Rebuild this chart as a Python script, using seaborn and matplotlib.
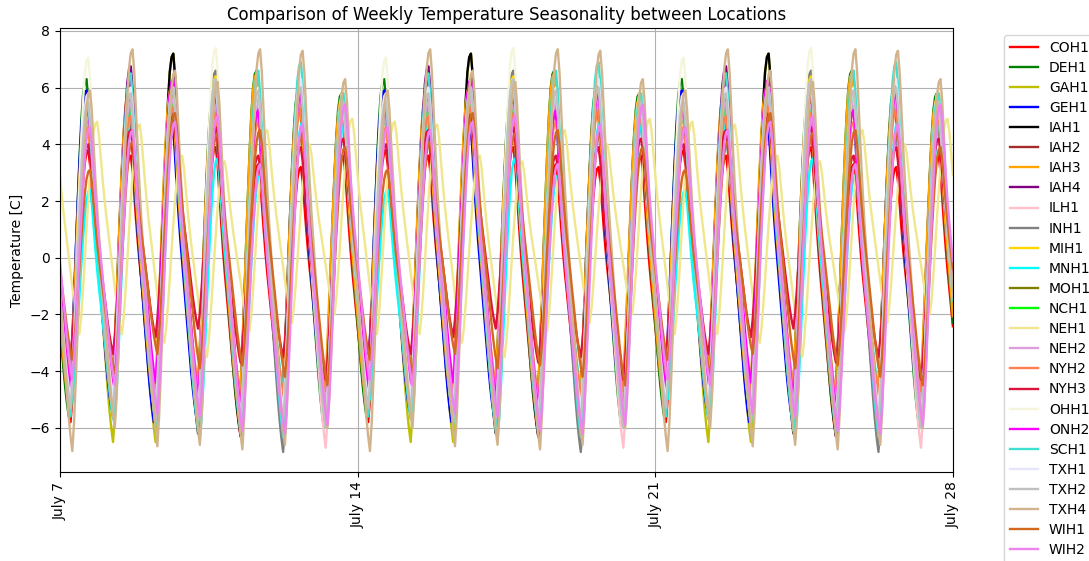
import numpy as np
import pandas as pd
import matplotlib
matplotlib.use("Agg")
import matplotlib.pyplot as plt
import matplotlib.dates as mdates
import seaborn as sns

locations = ["COH1", "DEH1", "GAH1", "GEH1", "IAH1", "IAH2", "IAH3", "IAH4", "ILH1", "INH1",
             "MIH1", "MNH1", "MOH1", "NCH1", "NEH1", "NEH2", "NYH2", "NYH3", "OHH1", "ONH2",
             "SCH1", "TXH1", "TXH2", "TXH4", "WIH1", "WIH2"]
colors = ["red", "green", "y", "blue", "black", "brown", "orange", "purple", "pink", "gray",
          "gold", "cyan", "olive", "lime", "khaki", "plum", "coral", "crimson", "beige", "magenta",
          "turquoise", "lavender", "silver", "tan", "chocolate", "violet"]

# daily peak (afternoon) values for the 7 days of the week, per location
peaks = {
    "COH1": [3.8, 3.6, 4.4, 3.9, 3.3, 3.2, 3.6],
    "DEH1": [6.3, 5.6, 5.8, 5.9, 6.6, 6.0, 5.8],
    "GAH1": [5.7, 6.2, 7.2, 6.5, 6.1, 6.2, 5.9],
    "GEH1": [5.9, 5.8, 5.3, 5.6, 5.9, 5.7, 5.5],
    "IAH1": [5.8, 6.4, 7.2, 6.0, 5.8, 6.1, 5.7],
    "IAH2": [5.0, 5.4, 5.6, 5.3, 5.2, 5.5, 5.0],
    "IAH3": [5.4, 5.9, 6.0, 5.7, 6.5, 5.8, 5.6],
    "IAH4": [5.6, 6.75, 6.3, 5.9, 5.8, 6.0, 5.6],
    "ILH1": [5.2, 5.4, 5.8, 6.1, 5.5, 5.9, 5.6],
    "INH1": [5.6, 5.9, 6.2, 6.6, 5.7, 5.8, 5.7],
    "MIH1": [5.5, 5.8, 6.0, 6.4, 5.7, 5.9, 5.6],
    "MNH1": [2.4, 5.2, 5.0, 3.5, 2.9, 4.8, 4.9],
    "MOH1": [5.3, 5.6, 5.9, 5.5, 5.6, 5.7, 5.4],
    "NCH1": [5.0, 5.4, 5.5, 5.2, 5.6, 5.8, 5.2],
    "NEH1": [4.8, 4.7, 3.6, 3.4, 4.5, 4.0, 4.9],
    "NEH2": [5.0, 5.5, 5.6, 5.4, 5.5, 5.6, 5.3],
    "NYH2": [4.6, 5.0, 5.3, 5.1, 4.8, 5.2, 4.9],
    "NYH3": [4.0, 4.5, 5.0, 4.6, 3.6, 3.9, 4.2],
    "OHH1": [7.06, 6.0, 6.1, 7.4, 6.0, 6.3, 5.9],
    "ONH2": [5.2, 6.3, 6.3, 5.8, 5.2, 5.8, 5.5],
    "SCH1": [5.4, 6.5, 6.0, 6.2, 6.6, 6.9, 5.8],
    "TXH1": [5.8, 6.0, 6.0, 6.1, 5.8, 6.3, 5.3],
    "TXH2": [5.5, 5.8, 6.0, 6.3, 5.9, 6.0, 5.5],
    "TXH4": [5.9, 7.35, 6.6, 6.2, 7.35, 7.3, 6.3],
    "WIH1": [3.1, 4.1, 5.1, 4.4, 4.5, 4.4, 3.9],
    "WIH2": [4.6, 4.5, 4.8, 5.0, 3.3, 4.7, 5.4],
}
# daily trough (early morning) values for the 7 days of the week, per location
troughs = {
    "COH1": [-5.8, -4.9, -5.2, -4.8, -6.3, -5.6, -5.2],
    "DEH1": [-5.6, -5.2, -5.6, -5.4, -5.8, -5.7, -6.0],
    "GAH1": [-5.3, -6.5, -6.5, -5.8, -5.9, -5.6, -5.8],
    "GEH1": [-5.0, -5.3, -5.8, -5.6, -5.5, -5.4, -5.6],
    "IAH1": [-5.4, -5.6, -5.7, -6.2, -6.3, -5.8, -5.5],
    "IAH2": [-4.8, -4.5, -4.8, -5.0, -5.2, -5.0, -4.9],
    "IAH3": [-5.2, -5.0, -5.3, -5.2, -5.5, -5.4, -5.1],
    "IAH4": [-5.0, -5.4, -5.6, -5.6, -5.7, -5.6, -5.4],
    "ILH1": [-5.3, -5.5, -5.6, -5.9, -6.0, -6.0, -6.7],
    "INH1": [-5.2, -5.6, -5.7, -5.5, -6.0, -6.85, -5.8],
    "MIH1": [-5.5, -5.3, -5.8, -5.7, -5.5, -5.6, -5.4],
    "MNH1": [-5.0, -5.6, -5.5, -6.4, -5.6, -5.0, -5.3],
    "MOH1": [-5.0, -5.2, -5.4, -4.7, -5.3, -5.4, -5.2],
    "NCH1": [-4.9, -5.1, -5.2, -5.3, -5.0, -5.5, -5.5],
    "NEH1": [-2.7, -2.7, -3.0, -3.5, -2.6, -2.3, -2.0],
    "NEH2": [-4.6, -4.8, -5.0, -5.1, -5.2, -5.3, -5.0],
    "NYH2": [-4.2, -4.6, -4.8, -4.5, -4.9, -4.8, -4.7],
    "NYH3": [-3.4, -3.4, -2.8, -2.5, -3.7, -3.5, -4.3],
    "OHH1": [-5.3, -5.0, -5.4, -5.4, -5.9, -5.5, -6.0],
    "ONH2": [-4.6, -4.5, -4.4, -4.9, -5.3, -6.0, -5.6],
    "SCH1": [-5.6, -5.7, -5.9, -6.1, -6.2, -6.3, -6.0],
    "TXH1": [-5.0, -4.9, -5.3, -5.4, -5.6, -5.4, -5.7],
    "TXH2": [-5.3, -5.4, -5.8, -5.7, -5.9, -5.8, -6.0],
    "TXH4": [-6.82, -6.0, -6.65, -6.6, -6.76, -6.6, -6.0],
    "WIH1": [-3.6, -4.1, -3.4, -3.9, -3.8, -4.2, -4.5],
    "WIH2": [-4.3, -4.5, -5.5, -5.6, -6.1, -6.2, -5.9],
}
# phase lag in hours per location (most follow the common cycle)
lag_hours = {"NEH1": 5, "TXH4": 1, "DEH1": -1, "GEH1": -1, "IAH3": -1,
             "MNH1": 1, "WIH1": 1, "WIH2": 1}

# normalized hourly shape of the daily cycle (0 = trough, 1 = peak)
hour_profile = [0.36, 0.29, 0.22, 0.15, 0.09, 0.04, 0.00, 0.08, 0.20, 0.34, 0.49, 0.63,
                0.76, 0.87, 0.95, 0.99, 1.00, 0.94, 0.84, 0.74, 0.65, 0.57, 0.50, 0.43]

times = pd.date_range("2023-07-07 00:00", "2023-07-28 00:00", freq="h")

rows = []
for loc in locations:
    P, T = peaks[loc], troughs[loc]
    lag = lag_hours.get(loc, 0)
    for i, ts in enumerate(times):
        t = i - lag
        d, h = divmod(t, 24)
        w = d % 7
        if 6 <= h <= 16:
            lo, hi = T[w], P[w]
        elif h > 16:
            lo, hi = T[(w + 1) % 7], P[w]
        else:
            lo, hi = T[w], P[(w - 1) % 7]
        rows.append((ts, loc, lo + hour_profile[h] * (hi - lo)))
df = pd.DataFrame(rows, columns=["time", "location", "temp"])

fig = plt.figure(figsize=(10.89, 5.61), dpi=100)
ax = fig.add_axes([0.055, 0.159, 0.820, 0.791])
for loc, col in zip(locations, colors):
    sub = df[df["location"] == loc]
    sns.lineplot(data=sub, x="time", y="temp", color=col, label=loc, ax=ax, linewidth=1.7)

ax.set_xlim(pd.Timestamp("2023-07-07"), pd.Timestamp("2023-07-28"))
ax.set_ylim(-7.55, 8.1)
ax.xaxis.set_major_locator(mdates.DayLocator(bymonthday=[7, 14, 21, 28]))
ax.xaxis.set_major_formatter(mdates.DateFormatter("%B %-d"))
plt.setp(ax.get_xticklabels(), rotation=90)
ax.grid(True)
ax.set_xlabel("")
ax.set_ylabel("Temperature [C]")
ax.set_title("Comparison of Weekly Temperature Seasonality between Locations")
ax.legend(bbox_to_anchor=(1.05, 1), loc="upper left", labelspacing=0.44)

fig.savefig("out.png", dpi=100)
